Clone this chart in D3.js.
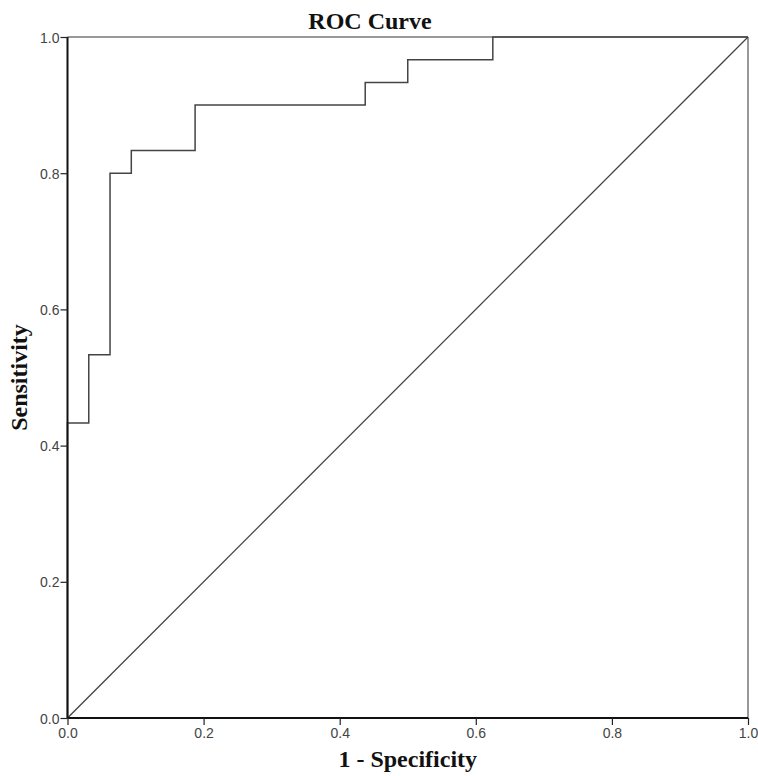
<!DOCTYPE html>
<html>
<head>
<meta charset="utf-8">
<script src="https://cdn.jsdelivr.net/npm/d3@7"></script>
<style>
  body { margin: 0; background: #fff; }
  .lbl { font-family: "Liberation Serif", "Times New Roman", serif; font-weight: bold; fill: #111; }
</style>
</head>
<body>
<div id="chart"></div>
<script>
// ROC points (1 - specificity, sensitivity)
const fpr = [0, 0, 0.03125, 0.03125, 0.0625, 0.0625, 0.09375, 0.09375, 0.1875, 0.1875, 0.4375, 0.4375, 0.5, 0.5, 0.625, 0.625, 1];
const tpr = [0, 0.4333, 0.4333, 0.5333, 0.5333, 0.8, 0.8, 0.8333, 0.8333, 0.9, 0.9, 0.9333, 0.9333, 0.9667, 0.9667, 1, 1];
const tickVals = [0, 0.2, 0.4, 0.6, 0.8, 1.0];

const width = 758, height = 776;
const margin = {top: 37, right: 10, bottom: 58, left: 67.5};

const svg = d3.select("#chart").append("svg")
    .attr("width", width)
    .attr("height", height);

const x = d3.scaleLinear().domain([0, 1]).range([margin.left, width - margin.right]);
const y = d3.scaleLinear().domain([0, 1]).range([height - margin.bottom, margin.top]);

// frame top / right
svg.append("line")
    .attr("x1", x(0)).attr("x2", x(1)).attr("y1", y(1)).attr("y2", y(1))
    .attr("stroke", "#777").attr("stroke-width", 1.5);
svg.append("line")
    .attr("x1", x(1)).attr("x2", x(1)).attr("y1", y(0)).attr("y2", y(1))
    .attr("stroke", "#777").attr("stroke-width", 1.5);

// reference diagonal
svg.append("line")
    .attr("x1", x(0)).attr("y1", y(0)).attr("x2", x(1)).attr("y2", y(1))
    .attr("stroke", "#444").attr("stroke-width", 1.3);

// roc curve
const pts = fpr.map((d, i) => [d, tpr[i]]);
const line = d3.line().x(d => x(d[0])).y(d => y(d[1]));
svg.append("path")
    .datum(pts)
    .attr("d", line)
    .attr("fill", "none")
    .attr("stroke", "#444")
    .attr("stroke-width", 1.5);

// axes
const xAxis = d3.axisBottom(x).tickValues(tickVals).tickFormat(d3.format(".1f")).tickSize(7).tickPadding(3);
const yAxis = d3.axisLeft(y).tickValues(tickVals).tickFormat(d3.format(".1f")).tickSize(7).tickPadding(1);

const gx = svg.append("g").attr("transform", "translate(0," + y(0) + ")").call(xAxis);
const gy = svg.append("g").attr("transform", "translate(" + x(0) + ",0)").call(yAxis);

[gx, gy].forEach(g => {
  g.attr("font-size", null).attr("font-family", null);
  g.select(".domain").attr("stroke", "#111").attr("stroke-width", 2);
  g.selectAll(".tick line").attr("stroke", "#222").attr("stroke-width", 1.2);
  g.selectAll(".tick text")
    .style("font-family", "'Liberation Sans', Arial, sans-serif")
    .style("font-size", "14px")
    .attr("fill", "#444");
});
gx.selectAll(".domain").attr("d", "M" + x(0) + ",0H" + x(1));
gy.selectAll(".domain").attr("d", "M0," + y(0) + "V" + y(1));
gy.selectAll(".tick text").attr("dy", "0.36em");

// titles
svg.append("text").attr("class", "lbl")
    .attr("x", 370).attr("y", 29)
    .attr("text-anchor", "middle").style("font-size", "24px")
    .text("ROC Curve");

svg.append("text").attr("class", "lbl")
    .attr("x", x(0.5)).attr("y", 767)
    .attr("text-anchor", "middle").style("font-size", "24px")
    .text("1 - Specificity");

svg.append("text").attr("class", "lbl")
    .attr("transform", "translate(27," + y(0.5) + ") rotate(-90)")
    .attr("text-anchor", "middle").style("font-size", "24px")
    .text("Sensitivity");
</script>
</body>
</html>
